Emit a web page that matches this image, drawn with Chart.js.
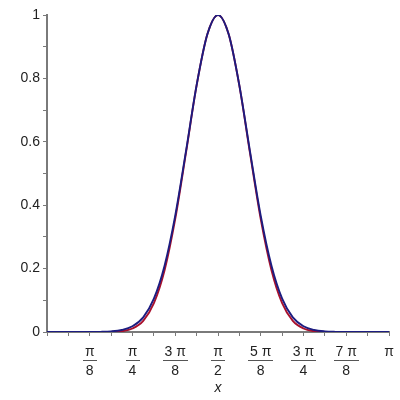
<!DOCTYPE html>
<html>
<head>
<meta charset="utf-8">
<script src="https://cdn.jsdelivr.net/npm/chart.js@4.4.0/dist/chart.umd.min.js"></script>
<style>
  html, body { margin: 0; padding: 0; background: #fff; }
  #wrap { width: 400px; height: 400px; }
</style>
</head>
<body>
<div id="wrap"><canvas id="c"></canvas></div>
<script>
// x sample positions (radians, steps of pi/32)
const xVals = [0, 0.098, 0.196, 0.295, 0.393, 0.491, 0.589, 0.687, 0.785, 0.884,
               0.982, 1.080, 1.178, 1.276, 1.374, 1.473, 1.571, 1.669, 1.767, 1.865,
               1.963, 2.062, 2.160, 2.258, 2.356, 2.454, 2.553, 2.651, 2.749, 2.847,
               2.945, 3.043, 3.142];

// blue curve (wider)
const blueVals = [0, 0, 0, 0, 0.0001, 0.0005, 0.0019, 0.0063, 0.018, 0.046,
                  0.105, 0.209, 0.367, 0.569, 0.778, 0.939, 1, 0.939, 0.778, 0.569,
                  0.367, 0.209, 0.105, 0.046, 0.018, 0.0063, 0.0019, 0.0005, 0.0001, 0,
                  0, 0, 0];

// red curve (narrower at the base)
const redVals = [0, 0, 0, 0, 0, 0.0001, 0.0005, 0.0027, 0.011, 0.035,
                 0.091, 0.195, 0.357, 0.564, 0.777, 0.939, 1, 0.939, 0.777, 0.564,
                 0.357, 0.195, 0.091, 0.035, 0.011, 0.0027, 0.0005, 0.0001, 0, 0,
                 0, 0, 0];

// x tick labels at k*pi/8: [numerator, denominator]
const xTickLabels = [
    ['π', '8'], ['π', '4'], ['3 π', '8'], ['π', '2'],
    ['5 π', '8'], ['3 π', '4'], ['7 π', '8'], ['π', '']
];

const axisColor = '#7a7a7a';
const labelFont = '14px "Liberation Sans", Arial, sans-serif';

function toPoints(vals) {
    return vals.map(function (v, i) { return { x: xVals[i], y: v }; });
}

// ── Draw pi-fraction labels under the x axis ────────────────────────────
const piLabels = {
    id: 'piLabels',
    afterDraw: function (chart) {
        const ctx = chart.ctx;
        const xs = chart.scales.x;
        const base = chart.chartArea.bottom;
        ctx.save();
        ctx.font = labelFont;
        ctx.fillStyle = '#222';
        ctx.textAlign = 'center';
        ctx.textBaseline = 'middle';
        xTickLabels.forEach(function (lab, i) {
            const px = xs.getPixelForValue((i + 1) * Math.PI / 8);
            ctx.fillText(lab[0], px, base + 20);
            if (lab[1]) {
                const w = Math.max(ctx.measureText(lab[0]).width, ctx.measureText(lab[1]).width) + 4;
                ctx.fillStyle = '#555';
                ctx.fillRect(Math.round(px - w / 2), base + 28, Math.round(w), 1);
                ctx.fillStyle = '#222';
                ctx.fillText(lab[1], px, base + 39);
            }
        });
        ctx.font = 'italic 14px "Liberation Sans", Arial, sans-serif';
        ctx.fillText('x', xs.getPixelForValue(Math.PI / 2), base + 56);
        ctx.restore();
    }
};

new Chart(document.getElementById('c'), {
    type: 'line',
    data: {
        datasets: [
            {
                data: toPoints(blueVals),
                borderColor: '#1c1c80',
                borderWidth: 1.9,
                pointRadius: 0,
                cubicInterpolationMode: 'monotone',
                fill: false
            },
            {
                data: toPoints(redVals),
                borderColor: '#a8102c',
                borderWidth: 1.9,
                pointRadius: 0,
                cubicInterpolationMode: 'monotone',
                fill: false
            }
        ]
    },
    options: {
        responsive: true,
        maintainAspectRatio: false,
        animation: false,
        layout: { padding: { left: 0, right: 11, top: 15, bottom: 0 } },
        plugins: {
            legend: { display: false },
            tooltip: { enabled: false }
        },
        scales: {
            x: {
                type: 'linear',
                min: 0,
                max: Math.PI,
                afterBuildTicks: function (scale) {
                    const t = [];
                    for (let k = 0; k <= 16; k++) t.push({ value: k * Math.PI / 16 });
                    scale.ticks = t;
                },
                afterFit: function (scale) { scale.height = 68; },
                ticks: { display: false },
                grid: {
                    drawOnChartArea: false,
                    tickLength: 4,
                    color: axisColor,
                    lineWidth: 1
                },
                border: { color: axisColor, width: 2 }
            },
            y: {
                min: 0,
                max: 1,
                afterFit: function (scale) { scale.width = 47; },
                ticks: {
                    stepSize: 0.1,
                    padding: 3,
                    color: '#222',
                    font: { family: '"Liberation Sans", Arial, sans-serif', size: 14 },
                    callback: function (v) {
                        const r = Math.round(v * 10);
                        if (r % 2 !== 0) return '';
                        return String(r / 10);
                    }
                },
                grid: {
                    drawOnChartArea: false,
                    tickLength: 4,
                    color: axisColor,
                    lineWidth: 1
                },
                border: { color: axisColor, width: 2 }
            }
        }
    },
    plugins: [piLabels]
});
</script>
</body>
</html>
